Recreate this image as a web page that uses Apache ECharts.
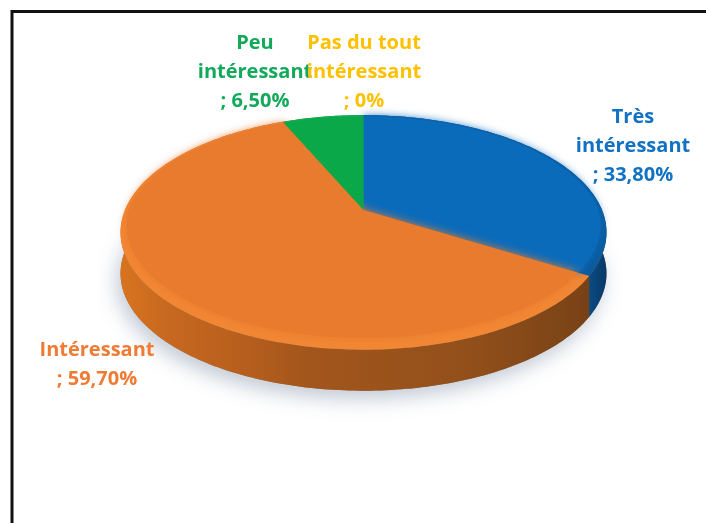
<!DOCTYPE html>
<html><head><meta charset="utf-8">
<style>html,body{margin:0;padding:0;background:#fff}#c{width:706px;height:523px}</style>
<script src="https://cdn.jsdelivr.net/npm/echarts@6/dist/echarts.min.js"></script>
</head><body><div id="c"></div>
<script>
const categories = ['Très intéressant','Intéressant','Peu intéressant','Pas du tout intéressant'];
const values = [33.8, 59.7, 6.5, 0];
const labelLines = [
  ['Très','intéressant','; 33,80%'],
  ['Intéressant','; 59,70%'],
  ['Peu','intéressant','; 6,50%'],
  ['Pas du tout','intéressant','; 0%']
];
const G = echarts.graphic.LinearGradient;
const view = {cx:363.5, cy:210, R:238.5, H:113, k:0.191, depth:41};
const labelAt = [[633,117],[97,350],[255,43],[364,43]];
const faceColors = ['#0a6bbb','#e87b2d','#0ba84a','#ffc000'];
const rimColors = ['#0a5a9e','#f28633','#0fae50','#ffc000'];
const labelColors = ['#1172c4','#f07b35','#12a95a','#ffc000'];
const wallStops = [
  [[0,'#0a4f8c'],[0.8,'#0a4f8c'],[0.93,'#0c5a9e'],[1,'#083a68']],
  [[0,'#d8741f'],[0.1,'#c66820'],[0.26,'#b65e1d'],[0.38,'#a3561c'],[0.7,'#93501b'],[0.95,'#7a4316'],[1,'#703c14']],
  [[0,'#087a36'],[1,'#087a36']],
  [[0,'#c89600'],[1,'#c89600']]
];
function project(deg, r, dy){
  const a = deg*Math.PI/180, u = r*Math.sin(a), v = -r*Math.cos(a);
  const s = 1/(1-view.k*v);
  return [view.cx+view.R*u*s, view.cy+view.H*v*s+dy];
}
function inset(deg){
  const v = -Math.cos(deg*Math.PI/180);
  return 0.985-0.055*Math.max(0,v);
}
function arc(a0,a1,rf,dy){
  const pts=[], n=Math.max(2,Math.ceil(a1-a0));
  for(let i=0;i<=n;i++){ const d=a0+(a1-a0)*i/n; pts.push(project(d,rf(d),dy)); }
  return pts;
}
function renderItem(params, api){
  const idx = params.dataIndex, val = api.value(0);
  const total = values.reduce((a,b)=>a+b,0);
  let before = 0; for(let i=0;i<idx;i++) before += values[i];
  const a0 = before/total*360, a1 = (before+val)/total*360;
  const kids = [];
  if(val>0){
    const apex=[view.cx,view.cy], one=()=>1;
    const outer = arc(a0,a1,one,0), bottom = arc(a0,a1,one,view.depth);
    kids.push({type:'polygon',z2:0,shape:{points:[[view.cx,view.cy+view.depth]].concat(bottom)},
      style:{fill:'#8a7a6a',shadowBlur:20,shadowColor:'rgba(120,135,160,0.45)',shadowOffsetX:-4,shadowOffsetY:8}});
    kids.push({type:'polygon',z2:idx===1?3:2,shape:{points:outer.concat(bottom.slice().reverse())},
      style:{fill:new G(121,0,606,0,wallStops[idx].map(s=>({offset:s[0],color:s[1]})),true)}});
    kids.push({type:'polygon',z2:5,shape:{points:[apex].concat(outer)},style:{fill:rimColors[idx]}});
    kids.push({type:'polygon',z2:6,shape:{points:[apex].concat(arc(a0,a1,inset,0))},
      style:{fill:faceColors[idx],shadowBlur:idx===2?0:9,shadowColor:faceColors[idx]}});
  }
  labelLines[idx].forEach((t,i)=>{
    kids.push({type:'text',z2:20+idx,x:labelAt[idx][0],y:labelAt[idx][1]+i*29.3,
      style:{text:t,fill:labelColors[idx],font:'bold 20px "Open Sans"',textAlign:'center',textVerticalAlign:'middle'}});
  });
  return {type:'group',children:kids};
}
const chart = echarts.init(document.getElementById('c'),null,{renderer:'canvas'});
chart.setOption({
  animation:false,
  backgroundColor:'#fff',
  graphic:[{type:'rect',z:100,shape:{x:12,y:11.5,width:720,height:600},style:{fill:'none',stroke:'#111',lineWidth:3}}],
  series:[{type:'custom',coordinateSystem:'none',renderItem,silent:true,
    dimensions:['value'],
    data:values.map((v,i)=>({name:categories[i],value:[v]}))}]
});
</script></body></html>
